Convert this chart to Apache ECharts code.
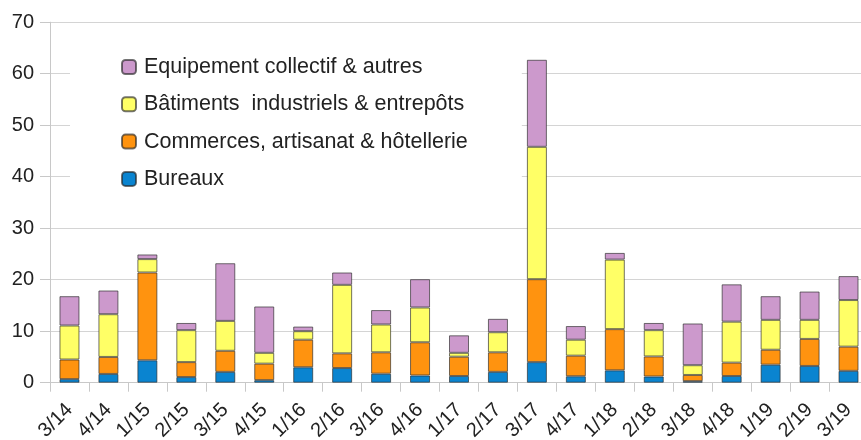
<!DOCTYPE html>
<html><head><meta charset="utf-8">
<script src="https://cdn.jsdelivr.net/npm/echarts@6/dist/echarts.min.js"></script>
<style>html,body{margin:0;padding:0;background:#fff}#c{width:861px;height:440px}</style>
</head><body><div id="c"></div>
<script>
const categories = ['3/14','4/14','1/15','2/15','3/15','4/15','1/16','2/16','3/16','4/16','1/17','2/17','3/17','4/17','1/18','2/18','3/18','4/18','1/19','2/19','3/19'];
const bureaux = [0.7,1.7,4.35,1.1,2.1,0.5,3.0,2.85,1.75,1.4,1.3,2.1,4.0,1.25,2.4,1.2,0.3,1.3,3.5,3.25,2.3];
const commerces = [3.8,3.3,17.05,2.9,4.1,3.2,5.35,2.85,4.15,6.45,3.75,3.8,16.1,4.0,8.0,3.9,1.2,2.6,2.9,5.25,4.7];
const batiments = [6.6,8.3,2.6,6.2,5.8,2.1,1.65,13.3,5.4,6.75,0.75,3.9,25.7,3.1,13.5,5.1,1.9,7.95,5.8,3.7,9.05];
const equipement = [5.7,4.6,0.9,1.4,11.2,9.0,0.9,2.4,2.8,5.5,3.4,2.6,16.9,2.65,1.3,1.4,8.1,7.25,4.6,5.5,4.65];
const names = ['Bureaux','Commerces, artisanat & hôtellerie','Bâtiments  industriels & entrepôts','Equipement collectif & autres'];
const colors = ['#0a84d0','#ff930f','#ffff66','#cc99cc'];
const yTicks = [0,10,20,30,40,50,60,70];

const font = 'Liberation Sans, Arial, sans-serif';
const chart = echarts.init(document.getElementById('c'), null, {renderer:'canvas'});
const data = [bureaux, commerces, batiments, equipement];
chart.setOption({
  animation:false,
  backgroundColor:'#fff',
  grid:{left:50, top:22.2, width:818, height:360.5, containLabel:false, outerBoundsMode:'none'},
  legend:{
    orient:'vertical', left:70, top:36,
    padding:[20,54,20,51],
    backgroundColor:'#fff',
    itemWidth:14, itemHeight:14, itemGap:15.3,
    data:[names[3],names[2],names[1],names[0]],
    textStyle:{fontFamily:font, fontSize:21.5, color:'#222', lineHeight:21, padding:[0,0,0,3]}
  },
  xAxis:{
    type:'category', data:categories, boundaryGap:true,
    axisLine:{lineStyle:{color:'#c8c8c8'}},
    axisTick:{show:true, length:9, lineStyle:{color:'#c8c8c8'}},
    axisLabel:{rotate:45, fontFamily:font, fontSize:20, color:'#222', margin:24, interval:0}
  },
  yAxis:{
    type:'value', min:yTicks[0], max:yTicks[yTicks.length-1], interval:10,
    axisLine:{show:true, lineStyle:{color:'#c8c8c8'}},
    axisTick:{show:true, length:10, lineStyle:{color:'#c8c8c8'}},
    splitLine:{lineStyle:{color:'#d4d4d4'}},
    axisLabel:{fontFamily:font, fontSize:20, color:'#222', margin:16}
  },
  series: data.map((d,i)=>({
    name:names[i], type:'bar', stack:'s', data:d, barWidth:20,
    itemStyle:{color:colors[i], borderColor:'rgba(40,40,40,0.65)', borderWidth:1}
  }))
});
</script></body></html>
